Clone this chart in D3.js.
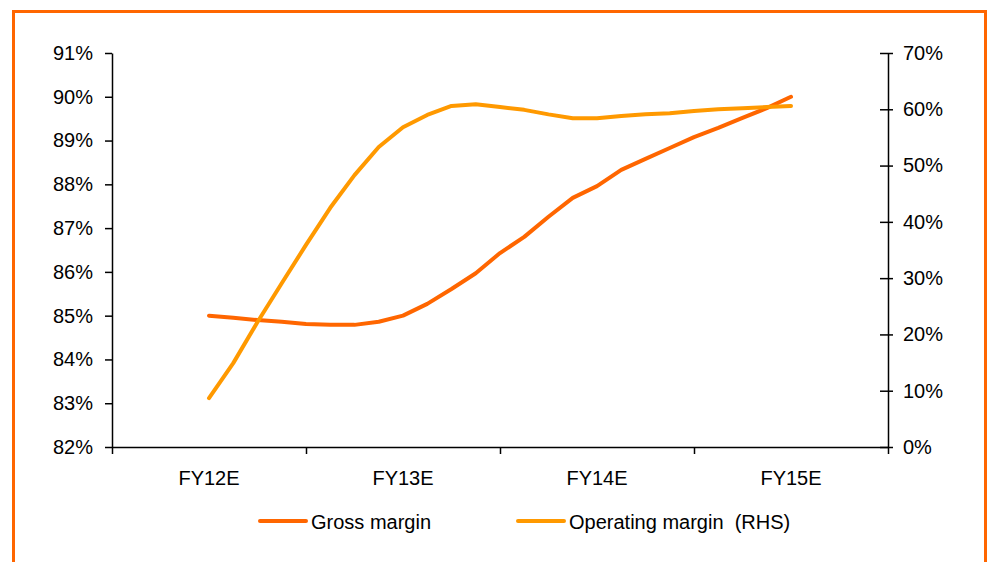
<!DOCTYPE html>
<html>
<head>
  <script src="https://d3js.org/d3.v7.min.js"></script>
  <style>
    body { margin: 0; background: #fff; }
    text { font-family: "Liberation Sans", Arial, sans-serif; fill: #000; }
    .axis path, .axis line { stroke: #000; stroke-width: 1.5px; }
    .line { fill: none; stroke-width: 4px; stroke-linejoin: round; stroke-linecap: round; }
  </style>
</head>
<body>
  <svg width="994" height="562"></svg>
  <script>
    var categories = ["FY12E", "FY13E", "FY14E", "FY15E"];
    var leftTicks = [0.82, 0.83, 0.84, 0.85, 0.86, 0.87, 0.88, 0.89, 0.90, 0.91];
    var rightTicks = [0, 0.1, 0.2, 0.3, 0.4, 0.5, 0.6, 0.7];

    // readings every 1/8 of a year from FY12E to FY15E
    var grossMargin = [85.0, 84.95, 84.9, 84.86, 84.81, 84.79, 84.79, 84.86, 85.0,
      85.27, 85.61, 85.97, 86.43, 86.8, 87.26, 87.69, 87.96,
      88.33, 88.58, 88.83, 89.08, 89.29, 89.52, 89.74, 90.0];
    var operatingMargin = [8.7, 14.9, 22.2, 29.1, 35.9, 42.5, 48.3, 53.3, 56.8,
      59.0, 60.6, 60.9, 60.4, 59.9, 59.1, 58.4, 58.4,
      58.8, 59.1, 59.3, 59.7, 60.0, 60.2, 60.4, 60.6];

    var svg = d3.select("svg");
    var plotLeft = 112, plotRight = 888, plotTop = 53, plotBottom = 447;

    // frame
    svg.append("rect")
      .attr("x", 13.5).attr("y", 11.5)
      .attr("width", 972).attr("height", 600)
      .attr("fill", "none").attr("stroke", "#FF6600").attr("stroke-width", 3);

    var x = d3.scaleLinear().domain([-0.5, 3.5]).range([plotLeft, plotRight]);
    var yL = d3.scaleLinear().domain([0.82, 0.91]).range([plotBottom, plotTop]);
    var yR = d3.scaleLinear().domain([0, 0.7]).range([plotBottom, plotTop]);
    var pct = d3.format(".0%");

    var gL = svg.append("g").attr("class", "axis")
      .attr("transform", "translate(" + plotLeft + ",0)")
      .call(d3.axisLeft(yL).tickValues(leftTicks).tickFormat(pct).tickSize(7).tickSizeOuter(0).tickPadding(12));
    gL.selectAll("text").style("font-size", "20px");

    var gR = svg.append("g").attr("class", "axis")
      .attr("transform", "translate(" + plotRight + ",0)")
      .call(d3.axisRight(yR).tickValues(rightTicks).tickFormat(pct).tickSize(5).tickSizeOuter(0).tickPadding(10));
    gR.selectAll(".tick line").attr("x1", -8);
    gR.selectAll("text").style("font-size", "20px");

    var gX = svg.append("g").attr("class", "axis")
      .attr("transform", "translate(0," + plotBottom + ")")
      .call(d3.axisBottom(x).tickValues([-0.5, 0.5, 1.5, 2.5, 3.5]).tickFormat("").tickSize(7).tickSizeOuter(0));

    svg.append("g").selectAll("text")
      .data(categories)
      .enter().append("text")
      .attr("x", function(d, i) { return x(i); })
      .attr("y", 478)
      .attr("dy", "0.35em")
      .attr("text-anchor", "middle")
      .style("font-size", "20px")
      .text(function(d) { return d; });

    var lineL = d3.line()
      .x(function(d, i) { return x(i / 8); })
      .y(function(d) { return yL(d / 100); });
    var lineR = d3.line()
      .x(function(d, i) { return x(i / 8); })
      .y(function(d) { return yR(d / 100); });

    svg.append("path").datum(grossMargin)
      .attr("class", "line").attr("stroke", "#FF6600").attr("d", lineL);
    svg.append("path").datum(operatingMargin)
      .attr("class", "line").attr("stroke", "#FF9900").attr("d", lineR);

    // legend
    var legend = [
      {name: "Gross margin", color: "#FF6600", x: 260},
      {name: "Operating margin  (RHS)", color: "#FF9900", x: 518}
    ];
    var lg = svg.append("g").selectAll("g")
      .data(legend)
      .enter().append("g")
      .attr("transform", function(d) { return "translate(" + d.x + ",521)"; });
    lg.append("line")
      .attr("x1", 0).attr("x2", 46)
      .attr("stroke", function(d) { return d.color; })
      .attr("stroke-width", 4).attr("stroke-linecap", "round");
    lg.append("text")
      .attr("x", 51).attr("dy", "0.38em")
      .style("font-size", "20px")
      .style("white-space", "pre")
      .text(function(d) { return d.name; });
  </script>
</body>
</html>
